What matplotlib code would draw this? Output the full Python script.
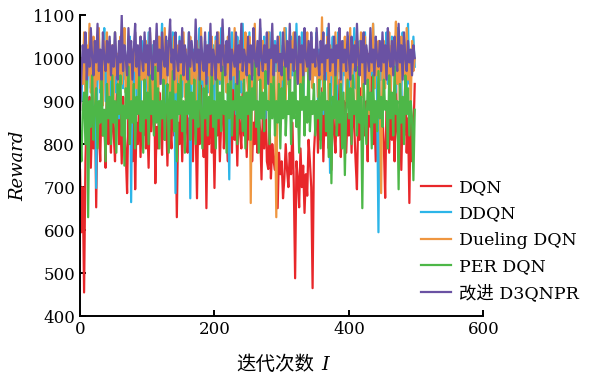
import numpy as np
import matplotlib.pyplot as plt

plt.rcParams['font.family'] = ['DejaVu Serif', 'Noto Sans CJK SC']

# rewards, one value every 2 iterations
dqn = [
    740, 595, 700, 455, 760, 880, 820, 910, 745, 860, 790, 930, 653, 880, 840, 760, 905, 820, 870, 745, 950, 800, 860, 780, 920,
    830, 760, 890, 985, 800, 870, 755, 910, 840, 780, 686, 900, 820, 865, 760, 940, 695, 850, 800, 905, 770, 880, 820, 960, 790,
    860, 745, 900, 830, 880, 1000, 709, 840, 790, 920, 860, 775, 935, 810, 880, 750, 900, 840, 790, 960, 820, 870, 630, 850, 800,
    900, 760, 870, 820, 945, 780, 860, 810, 890, 760, 920, 840, 674, 880, 800, 950, 830, 770, 900, 651, 860, 800, 930, 780, 870,
    698, 880, 820, 910, 760, 850, 940, 790, 870, 820, 760, 905, 840, 780, 960, 810, 870, 750, 900, 830, 790, 940, 820, 860, 770,
    880, 810, 920, 760, 850, 800, 940, 780, 870, 830, 718, 880, 790, 910, 760, 742, 850, 720, 800, 760, 740, 820, 651, 780, 730,
    760, 674, 720, 800, 740, 700, 780, 730, 850, 710, 488, 760, 720, 653, 790, 700, 750, 640, 730, 680, 810, 760, 700, 465, 780,
    840, 900, 780, 870, 810, 930, 760, 880, 820, 900, 790, 860, 740, 910, 830, 780, 890, 820, 950, 770, 860, 800, 900, 780, 870,
    820, 900, 780, 950, 840, 760, 695, 880, 810, 930, 790, 860, 820, 900, 760, 1010, 840, 990, 800, 870, 760, 910, 830, 780, 880,
    860, 800, 675, 900, 840, 780, 920, 810, 870, 760, 950, 830, 790, 900, 740, 880, 820, 960, 780, 860, 663, 900, 760, 820, 940,
]
ddqn = [
    960, 900, 1000, 940, 1040, 880, 990, 1060, 930, 1010, 870, 1030, 698, 980, 1050, 920, 1000, 960, 1070, 900, 1020, 950, 1040, 880, 1000,
    970, 1060, 920, 1010, 860, 1040, 980, 930, 1070, 950, 1000, 900, 1050, 665, 990, 940, 1060, 910, 1020, 970, 880, 1040, 1000, 950, 1030,
    920, 1060, 980, 900, 1030, 960, 1010, 870, 1050, 940, 1000, 1080, 930, 990, 880, 1040, 960, 1020, 900, 1060, 950, 686, 1010, 940, 1050,
    980, 910, 1040, 960, 1000, 880, 1060, 674, 970, 1020, 930, 1050, 900, 990, 1070, 940, 1010, 870, 1040, 960, 920, 1060, 990, 940, 1030,
    900, 1050, 970, 1020, 940, 1070, 880, 1000, 960, 1040, 910, 718, 990, 1060, 930, 1010, 870, 1050, 960, 1000, 920, 1080, 950, 1030, 980,
    940, 1060, 900, 1010, 970, 1040, 880, 1000, 950, 1070, 920, 990, 1050, 860, 1020, 960, 1060, 930, 1000, 890, 1040, 970, 1010, 940, 1060,
    910, 1030, 980, 1070, 940, 1000, 870, 1050, 960, 1020, 900, 1080, 950, 1000, 930, 1060, 880, 1010, 970, 1040, 920, 990, 1050, 940, 1010,
    960, 1060, 900, 1020, 980, 1040, 870, 1000, 950, 1070, 920, 733, 990, 1050, 940, 1010, 880, 1060, 970, 1000, 910, 1040, 960, 1020, 930,
    1050, 900, 1000, 960, 1070, 930, 1010, 880, 1040, 970, 1000, 920, 1060, 950, 990, 870, 1040, 960, 1080, 930, 1010, 900, 595, 1000, 950,
    1040, 910, 990, 1060, 940, 1010, 880, 1050, 970, 1020, 920, 1070, 950, 1000, 900, 1060, 960, 1030, 890, 1080, 940, 1010, 970, 1050, 980,
]
dueling = [
    880, 1000, 940, 1060, 900, 1030, 960, 1080, 920, 990, 1050, 880, 1010, 950, 1070, 930, 1000, 890, 1040, 970, 1060, 910, 1000, 950, 1030,
    900, 1060, 960, 1010, 880, 1050, 940, 990, 1070, 920, 1000, 960, 1040, 890, 1020, 970, 1060, 930, 990, 880, 1050, 950, 1010, 900, 1040,
    970, 920, 1060, 980, 890, 1030, 950, 1000, 870, 1050, 960, 1020, 910, 1070, 940, 990, 1040, 880, 1010, 960, 1050, 920, 980, 1030, 900,
    1000, 950, 1060, 910, 1020, 880, 990, 1050, 940, 1010, 960, 870, 1040, 980, 920, 1070, 950, 1000, 900, 1030, 960, 1010, 880, 1050, 940,
    990, 1040, 900, 1060, 950, 1010, 880, 1030, 970, 920, 1050, 990, 860, 1020, 960, 1070, 930, 1000, 890, 1040, 950, 1010, 900, 1060, 970,
    920, 1050, 663, 1000, 960, 1080, 900, 1020, 950, 990, 870, 1040, 930, 1010, 960, 1060, 890, 1000, 940, 1030, 900, 630, 980, 1050, 920,
    1010, 950, 1070, 900, 1030, 970, 880, 1040, 990, 1060, 920, 1000, 960, 1050, 880, 1020, 940, 1010, 970, 1060, 900, 990, 1040, 930, 1000,
    960, 1040, 910, 1000, 950, 1095, 920, 1010, 970, 1050, 890, 1030, 960, 1000, 880, 1060, 940, 990, 1040, 910, 1020, 970, 1050, 900, 1010,
    950, 1070, 920, 1000, 980, 1040, 880, 1020, 960, 1060, 910, 990, 1050, 940, 1000, 870, 1030, 970, 1080, 930, 1010, 960, 1040, 900, 686,
    980, 1040, 930, 1010, 960, 1060, 900, 1030, 970, 1000, 1085, 940, 1020, 880, 1050, 960, 1000, 920, 1070, 950, 1010, 890, 1040, 970, 1000,
]
per = [
    830, 760, 880, 920, 800, 950, 630, 900, 840, 960, 810, 880, 930, 790, 900, 850, 970, 820, 880, 760, 940, 860, 910, 800, 960,
    850, 900, 780, 940, 870, 960, 820, 890, 750, 930, 860, 980, 800, 900, 850, 940, 790, 910, 870, 960, 830, 900, 780, 950, 860,
    920, 800, 960, 870, 900, 820, 980, 850, 930, 790, 900, 860, 950, 810, 890, 940, 780, 920, 860, 970, 830, 900, 760, 940, 870,
    960, 830, 900, 780, 940, 870, 990, 810, 920, 860, 950, 800, 900, 840, 970, 880, 790, 930, 860, 950, 820, 910, 870, 980, 840,
    900, 790, 950, 860, 920, 830, 980, 870, 900, 780, 940, 860, 960, 820, 900, 880, 940, 800, 970, 860, 910, 830, 950, 790, 920,
    870, 960, 810, 930, 880, 990, 840, 900, 780, 950, 860, 920, 830, 970, 880, 900, 800, 940, 860, 960, 820, 900, 850, 940, 790,
    930, 860, 980, 820, 900, 870, 950, 800, 920, 860, 970, 840, 900, 780, 940, 880, 960, 820, 910, 850, 990, 830, 900, 870, 940,
    820, 900, 860, 950, 790, 920, 880, 960, 830, 900, 770, 940, 709, 910, 860, 970, 820, 900, 850, 940, 790, 920, 728, 880, 950,
    860, 930, 800, 960, 870, 900, 820, 980, 850, 910, 651, 940, 870, 800, 950, 880, 920, 790, 960, 850, 900, 830, 970, 860, 910,
    840, 950, 880, 900, 790, 960, 860, 920, 820, 980, 870, 900, 695, 940, 850, 910, 800, 960, 870, 930, 820, 900, 860, 716, 880,
]
d3qnpr = [
    880, 960, 1030, 990, 1060, 950, 1020, 980, 1070, 1000, 960, 1040, 990, 1080, 970, 1020, 950, 1060, 1000, 970, 1040, 990, 1050, 960, 1030,
    980, 1060, 1000, 950, 1040, 990, 1100, 970, 1030, 1000, 960, 1070, 990, 1040, 950, 1020, 1080, 980, 1030, 960, 1050, 1000, 970, 1060, 990,
    1030, 960, 1070, 1000, 950, 1040, 990, 1080, 970, 1020, 940, 1060, 1000, 980, 1050, 960, 1030, 1090, 990, 1020, 950, 1060, 1000, 970, 1040,
    990, 1070, 960, 1030, 1000, 950, 1060, 980, 1040, 1000, 970, 1090, 990, 1020, 950, 1050, 1000, 970, 1060, 940, 1030, 990, 1080, 960, 1020,
    1000, 950, 1060, 990, 1030, 970, 1090, 1000, 960, 1040, 990, 1070, 950, 1020, 1000, 980, 1060, 940, 1030, 990, 1080, 970, 1020, 1000, 960,
    1050, 990, 1030, 950, 1070, 1000, 980, 1040, 960, 1090, 1000, 970, 1030, 990, 1060, 940, 1020, 1000, 1080, 960, 1030, 990, 1050, 970, 1010,
    960, 1060, 1000, 980, 1040, 950, 1080, 990, 1020, 970, 1060, 1000, 940, 1050, 990, 1030, 960, 1070, 1000, 980, 1040, 950, 1060, 990, 1020,
    980, 1070, 1000, 960, 1040, 990, 1060, 950, 1030, 1000, 1080, 970, 1020, 990, 1050, 960, 1030, 1000, 1070, 950, 1040, 990, 1020, 970, 1060,
    1000, 950, 1050, 990, 1030, 970, 1080, 1000, 960, 1040, 990, 1060, 940, 1030, 1000, 970, 1070, 990, 1020, 960, 1050, 1000, 980, 1040, 970,
    1060, 990, 1030, 950, 1070, 1000, 980, 1040, 960, 1050, 1000, 970, 1080, 990, 1030, 950, 1060, 1000, 970, 1040, 990, 1020, 960, 1030, 1000,
]

series = [dqn, ddqn, dueling, per, d3qnpr]
labels = ['DQN', 'DDQN', 'Dueling DQN', 'PER DQN', '改进 D3QNPR']
colors = ['#e8272a', '#2cb5e8', '#ef9640', '#4db748', '#6a52a3']

fig = plt.figure(figsize=(5.93, 3.79), dpi=100)
ax = fig.add_axes([0.135, 0.166, 0.68, 0.794])

for s, lab, c in zip(series, labels, colors):
    it = np.arange(len(s)) * 2
    ax.plot(it, s, color=c, lw=1.6, label=lab)

ax.set_xlim(0, 600)
ax.set_ylim(400, 1100)
ax.set_xticks([0, 200, 400, 600])
ax.set_yticks(np.arange(400, 1101, 100))
ax.tick_params(direction='in', labelsize=12, width=1.4, length=4)
for side in ['top', 'right']:
    ax.spines[side].set_visible(False)
for side in ['left', 'bottom']:
    ax.spines[side].set_linewidth(1.4)

ax.set_ylabel('Reward', fontsize=13, style='italic')
# x label: Chinese part plus an italic I
fig.text(314 / 593, 0.037, '迭代次数', family='Noto Sans CJK SC', fontsize=14,
         ha='right', va='center')
fig.text(321 / 593, 0.037, 'I', family='DejaVu Serif', style='italic',
         fontsize=14, ha='left', va='center')

fig.legend(loc='upper left', bbox_to_anchor=(0.695, 0.55), frameon=False,
           fontsize=12.5, borderpad=0, handlelength=1.72, handletextpad=0.5,
           labelspacing=0.53)

fig.savefig('out.png', dpi=100)
